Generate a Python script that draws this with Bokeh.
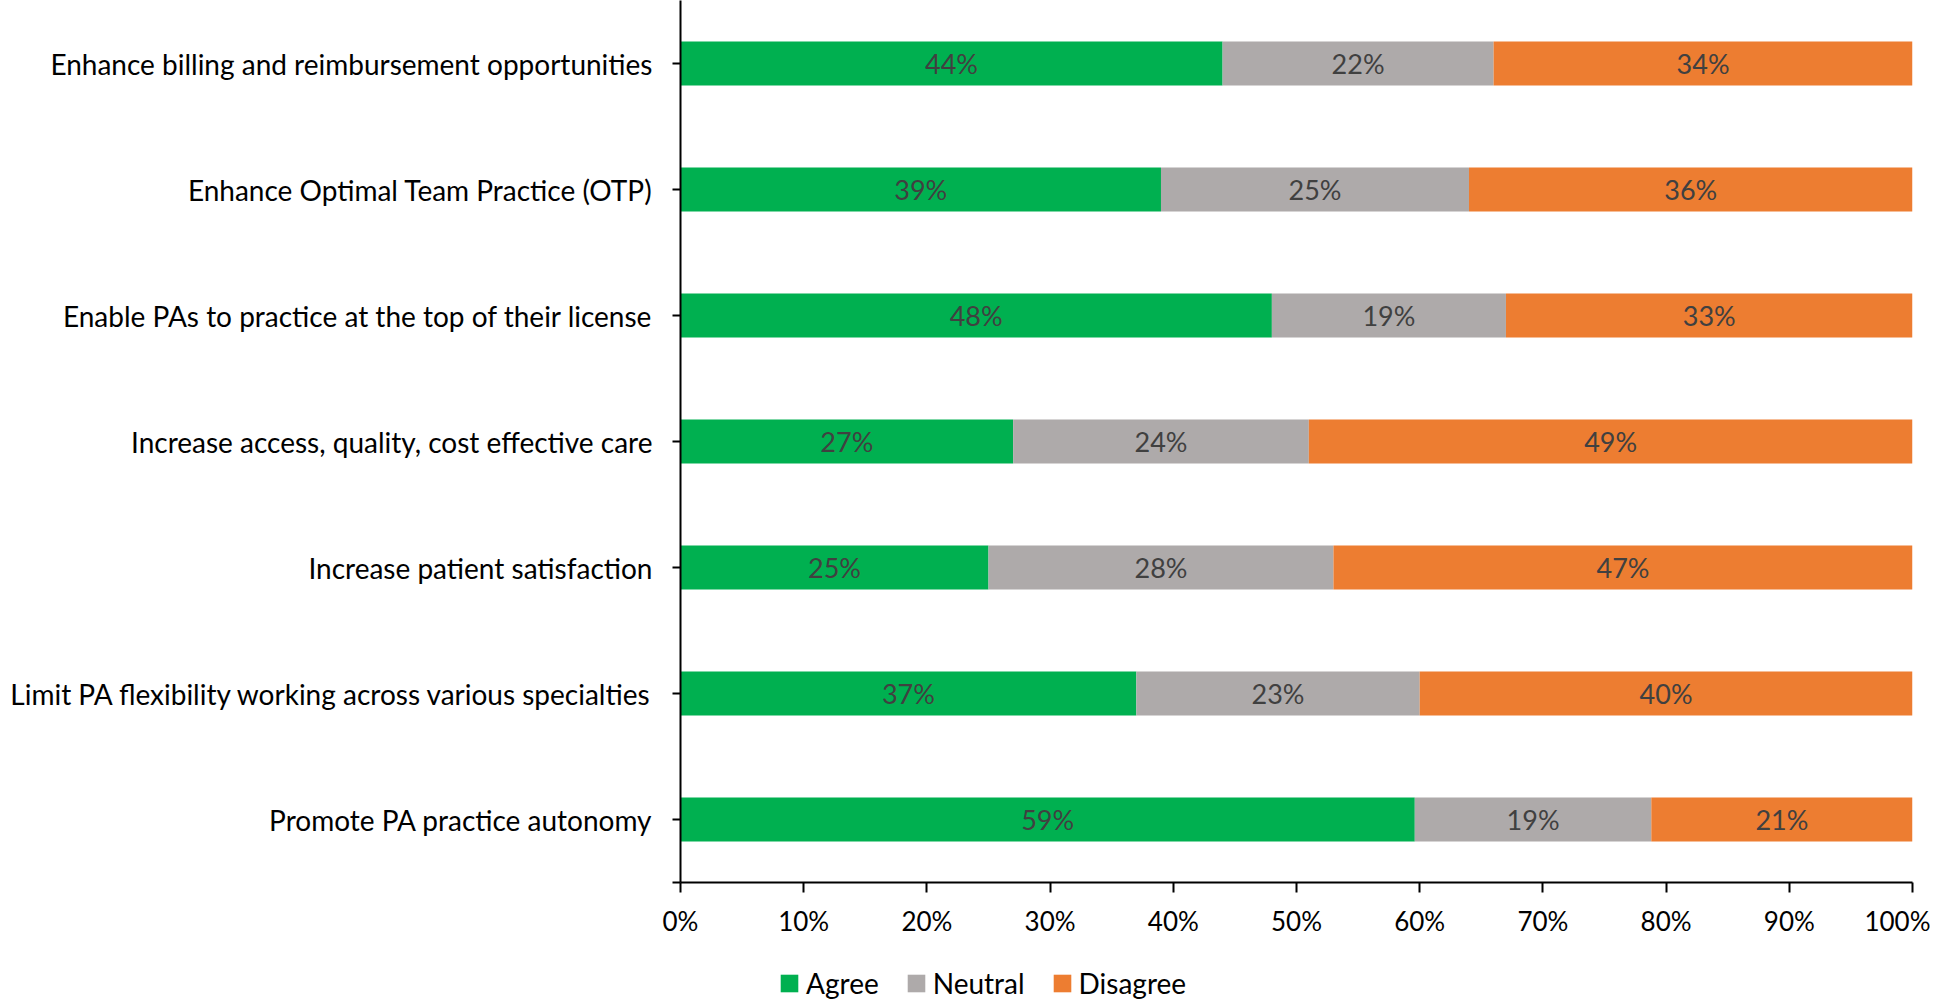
from bokeh.plotting import figure
from bokeh.layouts import column
from bokeh.models import (ColumnDataSource, Range1d, FixedTicker, PrintfTickFormatter,
                          Legend, LegendItem, LabelSet)
from bokeh.core.properties import value
from bokeh.embed import file_html
from bokeh.resources import INLINE

categories = [
    "Enhance billing and reimbursement opportunities",
    "Enhance Optimal Team Practice (OTP)",
    "Enable PAs to practice at the top of their license",
    "Increase access, quality, cost effective care",
    "Increase patient satisfaction",
    "Limit PA flexibility working across various specialties",
    "Promote PA practice autonomy",
]
agree = [44, 39, 48, 27, 25, 37, 59.6]
neutral = [22, 25, 19, 24, 28, 23, 19.2]
disagree = [34, 36, 33, 49, 47, 40, 21.2]
agree_labels = ["44%", "39%", "48%", "27%", "25%", "37%", "59%"]
neutral_labels = ["22%", "25%", "19%", "24%", "28%", "23%", "19%"]
disagree_labels = ["34%", "36%", "33%", "49%", "47%", "40%", "21%"]
series = ["Agree", "Neutral", "Disagree"]
x_ticks = [0, 10, 20, 30, 40, 50, 60, 70, 80, 90, 100]

colors = ["#00B050", "#AEAAAA", "#ED7D31"]
FONT = "Lato"

n = len(categories)
ypos = [n - 1 - i for i in range(n)]

p = figure(width=1930, height=942, output_backend="svg", toolbar_location=None,
           x_range=Range1d(0, 100), y_range=Range1d(-0.5, n - 0.5),
           min_border_left=680, min_border_right=18, min_border_top=0, min_border_bottom=60)
p.outline_line_color = None
p.xgrid.visible = False
p.ygrid.visible = False

vals = [agree, neutral, disagree]
labs = [agree_labels, neutral_labels, disagree_labels]
left = [0.0] * n
for k in range(3):
    right = [l + v for l, v in zip(left, vals[k])]
    mid = [(l + r) / 2 for l, r in zip(left, right)]
    src = ColumnDataSource(dict(y=ypos, left=left, right=right, mid=mid, lab=labs[k]))
    p.hbar(y="y", left="left", right="right", height=0.35, source=src,
           fill_color=colors[k], line_color=None)
    p.add_layout(LabelSet(x="mid", y="y", text="lab", source=src,
                          text_align="center", text_baseline="middle",
                          text_color="#404040", text_font=value(FONT),
                          text_font_size="27px"))
    left = right

# axes
p.xaxis.ticker = FixedTicker(ticks=x_ticks)
p.xaxis.formatter = PrintfTickFormatter(format="%d%%")
p.xaxis.major_label_text_font = FONT
p.xaxis.major_label_text_font_size = "26px"
p.xaxis.major_label_text_color = "#000000"
p.xaxis.major_tick_out = 10
p.xaxis.major_tick_in = 0
p.xaxis.minor_tick_line_color = None
p.xaxis.axis_line_width = 2
p.xaxis.major_tick_line_width = 2
p.xaxis.axis_line_color = "#000000"
p.xaxis.major_tick_line_color = "#000000"
p.xaxis.major_label_standoff = 12

p.yaxis.ticker = FixedTicker(ticks=ypos + [-0.5])
overrides = {y: c for y, c in zip(ypos, categories)}
overrides[-0.5] = ""
p.yaxis.major_label_overrides = overrides
p.yaxis.major_label_text_font = FONT
p.yaxis.major_label_text_font_size = "28px"
p.yaxis.major_label_text_color = "#000000"
p.yaxis.major_tick_out = 8
p.yaxis.major_tick_in = 0
p.yaxis.minor_tick_line_color = None
p.yaxis.axis_line_width = 2
p.yaxis.major_tick_line_width = 2
p.yaxis.axis_line_color = "#000000"
p.yaxis.major_tick_line_color = "#000000"
p.yaxis.major_label_standoff = 20

# legend strip below the chart
lp = figure(width=1930, height=58, output_backend="svg", toolbar_location=None,
            x_range=Range1d(0, 1), y_range=Range1d(0, 1),
            x_axis_type=None, y_axis_type=None,
            min_border_left=0, min_border_right=0, min_border_top=0, min_border_bottom=0)
lp.outline_line_color = None
lp.xgrid.visible = False
lp.ygrid.visible = False
items = []
for s, c in zip(series, colors):
    r = lp.hbar(y=[-5], left=[0], right=[1], height=0.5, fill_color=c, line_color=None)
    items.append(LegendItem(label=s, renderers=[r]))
legend = Legend(items=items, orientation="horizontal", location=(98, 0),
                label_text_font=FONT, label_text_font_size="28px",
                label_text_color="#000000", glyph_width=22, glyph_height=22,
                spacing=26, label_standoff=6, padding=0, margin=0,
                border_line_color=None, background_fill_alpha=0)
lp.add_layout(legend, "center")

layout = column(p, lp, spacing=0)
open("out.html", "w").write(file_html(layout, INLINE))
